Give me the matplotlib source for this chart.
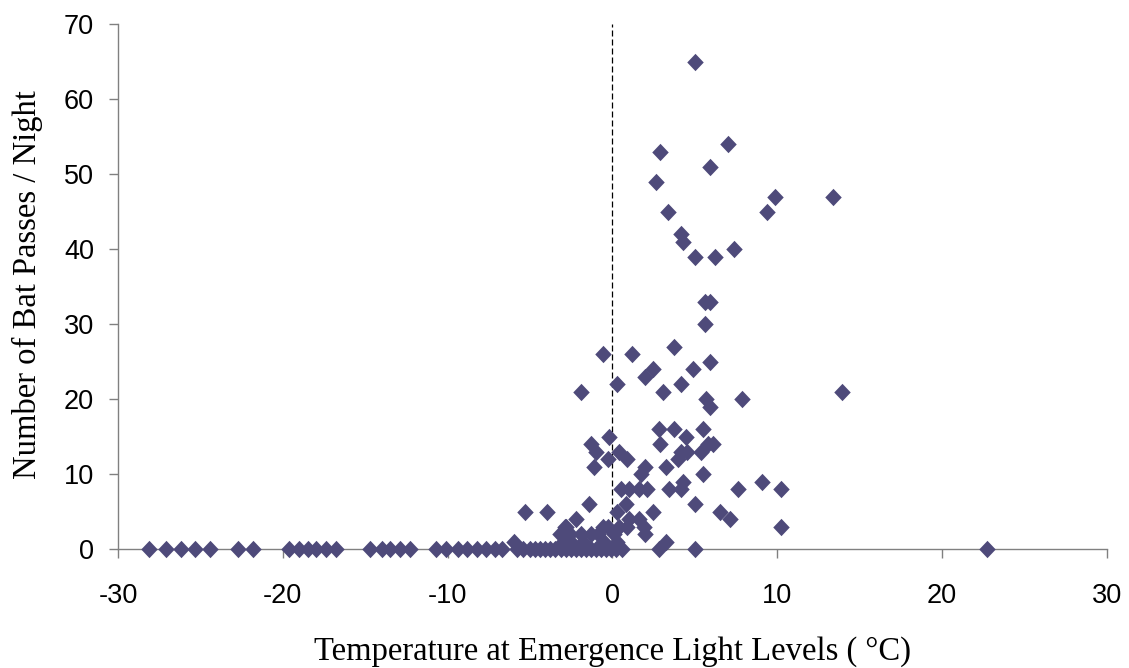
import matplotlib
matplotlib.use("Agg")
from matplotlib import pyplot as plt

plt.rcParams['axes.unicode_minus'] = False

# temperature at emergence (deg C) and bat passes per night
temp = [
    -28.1, -27.1, -26.2, -25.3, -24.4, -22.7, -21.8,
    -19.6, -19.0, -18.5, -18.0, -17.4, -16.8,
    -14.7, -14.0, -13.5, -12.9, -12.3,
    -10.7, -10.1, -9.4, -8.8, -8.2, -7.7, -7.1, -6.7,
    -5.8, -5.4, -5.0, -4.7, -4.4, -4.1, -3.8, -3.5, -3.1, -2.8, -2.5, -2.2,
    -1.9, -1.6, -1.3, -1.0, -0.7, -0.4, -0.1, 0.2, 0.6, 2.85, 5.0, 22.7,
    -6.0, -3.0, -2.5, -1.8, -0.5, 0.3, 3.25,
    -3.2, -2.6, -1.9, -1.3, -0.9, 0.1, 2.0, 1.9,
    -2.9, -2.8, -2.2, -0.6, 0.4, 0.9, -0.3,
    1.0, 1.6, 0.3, 7.1,
    -5.3, -4.0, -1.4, 0.8, 2.45, 5.0, 6.5, 10.25,
    0.5, 1.0, 1.6, 2.1, 3.45, 4.15, 4.25, 7.6, 9.05, 10.25,
    1.7, 5.5, 2.0, 3.25, -1.1,
    -0.3, 0.9, 0.4, -1.0, 3.95, 4.15, 4.55, 5.4,
    -1.3, -0.2, 2.9, 5.8, 6.1, 4.45, 2.85, 3.75, 5.5,
    -1.9, 3.05, 5.7, 5.9, 7.85, 13.95,
    0.3, 4.15, 2.0, 2.45, 4.9, 5.9, -0.6, 1.2, 3.75,
    5.6, 5.6, 5.9,
    5.0, 6.2, 7.4, 4.25, 4.15, 3.35, 9.4, 9.85, 13.4, 2.65, 5.9, 2.9, 7.0, 5.0,
]
passes = [
    0, 0, 0, 0, 0, 0, 0,
    0, 0, 0, 0, 0, 0,
    0, 0, 0, 0, 0,
    0, 0, 0, 0, 0, 0, 0, 0,
    0, 0, 0, 0, 0, 0, 0, 0, 0, 0, 0, 0,
    0, 0, 0, 0, 0, 0, 0, 0, 0, 0, 0, 0,
    1, 1, 1, 1, 1, 1, 1,
    2, 2, 2, 2, 2, 2, 2, 3,
    3, 3, 4, 3, 3, 3, 3,
    4, 4, 5, 4,
    5, 5, 6, 6, 5, 6, 5, 3,
    8, 8, 8, 8, 8, 8, 9, 8, 9, 8,
    10, 10, 11, 11, 11,
    12, 12, 13, 13, 12, 13, 13, 13,
    14, 15, 14, 14, 14, 15, 16, 16, 16,
    21, 21, 20, 19, 20, 21,
    22, 22, 23, 24, 24, 25, 26, 26, 27,
    30, 33, 33,
    39, 39, 40, 41, 42, 45, 45, 47, 47, 49, 51, 53, 54, 65,
]

x_ticks = [-30, -20, -10, 0, 10, 20, 30]
y_ticks = [0, 10, 20, 30, 40, 50, 60, 70]

fig = plt.figure(figsize=(11.29, 6.68), dpi=100)
ax = fig.add_axes([0.1045, 0.1781, 0.876, 0.7859])

ax.axvline(0, color='black', lw=0.9, ls=(0, (4.8, 2.4)), zorder=2)

diamond = [(0, 1), (0.95, 0), (0, -1), (-0.95, 0), (0, 1)]
ax.plot(temp, passes, ls='none', marker=diamond, markersize=12.5,
        color='#4E4A7A', markeredgewidth=0, zorder=3, clip_on=False)

ax.set_xlim(-30, 30)
ax.set_ylim(0, 70)
ax.set_xticks(x_ticks)
ax.set_yticks(y_ticks)

for side in ['top', 'right']:
    ax.spines[side].set_visible(False)
for side in ['left', 'bottom']:
    ax.spines[side].set_color('#808080')
    ax.spines[side].set_linewidth(1.0)

ax.tick_params(direction='out', length=6.3, width=1.0, color='#808080')
ax.tick_params(axis='x', pad=18.5)
ax.tick_params(axis='y', pad=11)
for lab in ax.get_xticklabels() + ax.get_yticklabels():
    lab.set_fontfamily('Liberation Sans')
    lab.set_fontsize(19.5)

ax.set_xlabel('Temperature at Emergence Light Levels ( °C)',
              family='Liberation Serif', fontsize=23.5, va='center')
ax.xaxis.set_label_coords(0.5, -0.196)
ax.set_ylabel('Number of Bat Passes / Night',
              family='Liberation Serif', fontsize=23.5, va='center')
ax.yaxis.set_label_coords(-0.092, 0.503)

fig.savefig('out.png', dpi=100)
